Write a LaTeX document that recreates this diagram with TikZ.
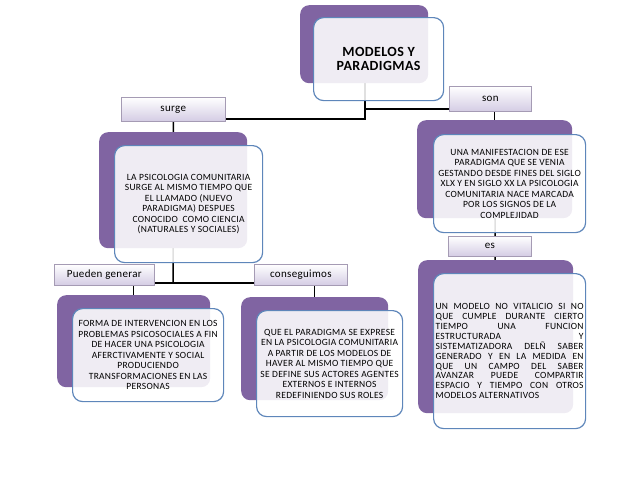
\documentclass[tikz,border=0pt]{standalone}
\usepackage{fontspec}
\setmainfont{Carlito}[LetterSpace=3]
\usetikzlibrary{shadows}
\definecolor{purp}{RGB}{128,100,162}
\definecolor{wborder}{RGB}{94,134,186}
\definecolor{lav}{RGB}{212,204,228}
\definecolor{lborder}{RGB}{165,155,180}
\pgfdeclarelayer{bg}
\pgfsetlayers{bg,main}
\tikzset{
 pbox/.style={draw=none, fill=purp, rounded corners=9pt, anchor=north west, inner sep=0pt},
 wbox/.style={draw=wborder, line width=1.2pt, fill=white, fill opacity=0.88, text opacity=1, rounded corners=10pt, anchor=north west, inner sep=0pt, align=center, font=\fontsize{9.5}{10.5}\selectfont},
 lbox/.style={draw=lborder, line width=0.6pt, top color=white, bottom color=lav, anchor=north west, inner sep=0pt, font=\fontsize{11}{12}\selectfont, drop shadow={opacity=0.2, shadow xshift=0.8pt, shadow yshift=-0.8pt}},
 conn/.style={draw=black, line width=1.5pt},
}
\begin{document}
\begin{tikzpicture}[x=1pt,y=-1pt]
\useasboundingbox (0,0) rectangle (638,493);
% top
\node[pbox, minimum width=128pt, minimum height=78pt] (topP) at (300,5) {};
\node[wbox, minimum width=130pt, minimum height=83pt, font=\bfseries\fontsize{14}{13.5}\selectfont] (topW) at (313,17) {MODELOS Y\\PARADIGMAS};
% left middle
\node[pbox, minimum width=148pt, minimum height=116pt] (psiP) at (99,132) {};
\node[wbox, minimum width=148pt, minimum height=117pt] (psiW) at (114,145) {LA PSICOLOGIA COMUNITARIA\\SURGE AL MISMO TIEMPO QUE\\EL LLAMADO (NUEVO\\PARADIGMA) DESPUES\\CONOCIDO\ \ COMO CIENCIA\\(NATURALES Y SOCIALES)};
% bottom left
\node[pbox, minimum width=153pt, minimum height=92pt] (blP) at (57,295) {};
\node[wbox, minimum width=151pt, minimum height=93pt] (blW) at (72,308) {FORMA DE INTERVENCION EN LOS\\PROBLEMAS PSICOSOCIALES A FIN\\DE HACER UNA PSICOLOGIA\\AFERCTIVAMENTE Y SOCIAL\\PRODUCIENDO\\TRANSFORMACIONES EN LAS\\PERSONAS};
% bottom middle
\node[pbox, minimum width=147pt, minimum height=103pt] (bmP) at (241,297) {};
\node[wbox, minimum width=146pt, minimum height=106pt] (bmW) at (256,310) {QUE EL PARADIGMA SE EXPRESE\\EN LA PSICOLOGIA COMUNITARIA\\A PARTIR DE LOS MODELOS DE\\HAVER AL MISMO TIEMPO QUE\\SE DEFINE SUS ACTORES AGENTES\\EXTERNOS E INTERNOS\\REDEFINIENDO SUS ROLES};
% right top
\node[pbox, minimum width=155pt, minimum height=98pt] (rtP) at (417,120) {};
\node[wbox, minimum width=152pt, minimum height=98pt] (rtW) at (433,134) {UNA MANIFESTACION DE ESE\\PARADIGMA QUE SE VENIA\\GESTANDO DESDE FINES DEL SIGLO\\XLX Y EN SIGLO XX LA PSICOLOGIA\\COMUNITARIA NACE MARCADA\\POR LOS SIGNOS DE LA\\COMPLEJIDAD};
% right bottom
\node[pbox, minimum width=155pt, minimum height=153pt] (rbP) at (418,260) {};
\node[wbox, minimum width=152pt, minimum height=155pt, text width=148pt, align=justify, font=\fontsize{9.5}{9.9}\selectfont] (rbW) at (433,273) {UN MODELO NO VITALICIO SI NO\linebreak QUE CUMPLE DURANTE CIERTO\linebreak TIEMPO UNA FUNCION\linebreak ESTRUCTURADA Y\linebreak SISTEMATIZADORA DELÑ SABER\linebreak GENERADO Y EN LA MEDIDA EN\linebreak QUE UN CAMPO DEL SABER\linebreak AVANZAR PUEDE COMPARTIR\linebreak ESPACIO Y TIEMPO CON OTROS\linebreak MODELOS ALTERNATIVOS};
% labels
\node[lbox, minimum width=104pt, minimum height=24pt] (surge) at (121,97) {surge};
\node[lbox, minimum width=82pt, minimum height=25pt] (son) at (449,86) {son};
\node[lbox, minimum width=100pt, minimum height=21pt] (pueden) at (54,264) {Pueden generar};
\node[lbox, minimum width=93pt, minimum height=21pt] (conseg) at (254,264) {conseguimos};
\node[lbox, minimum width=83pt, minimum height=20pt] (es) at (448,236) {es};
% connectors
\coordinate (j1) at (365,119);
\coordinate (j2) at (365,109);
\coordinate (j3) at (173,283);
\begin{pgfonlayer}{bg}
\draw[conn] (topP.center -| j1) -- (j1) -- (j1 -| surge.east);
\draw[conn] (j2) -- (j2 -| son.west);
\draw[conn] (surge.center) -- (psiP.center);
\draw[conn] (psiP.center) -- (j3);
\draw[conn] (j3 -| pueden.east) -- (j3 -| conseg.west);
\draw[conn] (pueden.center -| blP.north) -- (blP.center);
\draw[conn] (conseg.center -| bmP.north) -- (bmP.center);
\draw[conn] (son.center -| rtP.north) -- (rtP.center);
\draw[conn] (rtP.center) -- (rbP.center);
\end{pgfonlayer}
\end{tikzpicture}
\end{document}
